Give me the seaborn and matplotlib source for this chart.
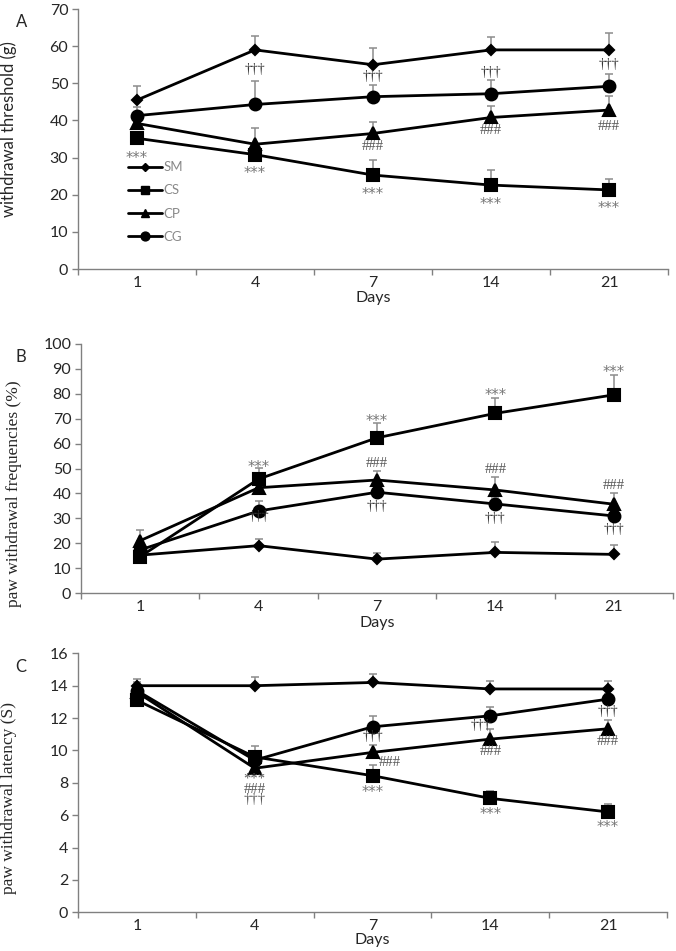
import numpy as np
import pandas as pd
import matplotlib
matplotlib.use("Agg")
import matplotlib.pyplot as plt
import seaborn as sns
from matplotlib.lines import Line2D

# ---------------- data ----------------
days = ["1", "4", "7", "14", "21"]
groups = ["SM", "CS", "CP", "CG"]

# Panel A: withdrawal threshold (g)
a_sm = [45.5, 59.0, 55.0, 59.0, 59.0]
a_cs = [35.2, 30.8, 25.3, 22.6, 21.3]
a_cp = [39.2, 33.6, 36.5, 40.8, 42.8]
a_cg = [41.3, 44.3, 46.4, 47.2, 49.2]
a_sm_err = [3.8, 3.8, 4.6, 3.6, 4.5]
a_cs_err = [0.0, 0.0, 4.0, 4.1, 2.9]
a_cp_err = [1.5, 4.4, 3.2, 3.1, 3.8]
a_cg_err = [2.3, 6.3, 3.2, 3.7, 3.4]

# Panel B: paw withdrawal frequencies (%)
b_sm = [15.3, 19.1, 13.7, 16.4, 15.6]
b_cs = [14.7, 45.8, 62.3, 72.1, 79.5]
b_cp = [21.1, 42.3, 45.4, 41.4, 35.7]
b_cg = [17.4, 33.0, 40.5, 35.8, 31.0]
b_sm_err = [1.5, 2.7, 2.6, 4.0, 3.8]
b_cs_err = [1.0, 4.3, 5.8, 6.3, 8.1]
b_cp_err = [4.3, 2.0, 3.7, 5.3, 4.4]
b_cg_err = [2.0, 4.0, 2.0, 2.5, 2.0]

# Panel C: paw withdrawal latency (S)
c_sm = [14.0, 14.0, 14.2, 13.8, 13.8]
c_cs = [13.1, 9.6, 8.44, 7.04, 6.2]
c_cp = [13.6, 8.9, 9.88, 10.7, 11.34]
c_cg = [13.7, 9.4, 11.46, 12.14, 13.17]
c_sm_err = [0.4, 0.55, 0.5, 0.5, 0.5]
c_cs_err = [0.2, 0.65, 0.64, 0.45, 0.47]
c_cp_err = [0.3, 0.3, 0.47, 0.6, 0.52]
c_cg_err = [0.5, 0.4, 0.68, 0.56, 0.3]

# significance marks: (category position, y value, text)
a_marks = [(0, 31.0, "***"), (1, 27.0, "***"), (2, 21.3, "***"), (3, 18.6, "***"), (4, 17.7, "***"),
           (1, 53.6, "†††"), (2, 51.8, "†††"), (3, 53.0, "†††"), (4, 55.2, "†††"),
           (2, 32.9, "###"), (3, 37.2, "###"), (4, 38.5, "###")]
b_marks = [(1, 52.5, "***"), (2, 70.8, "***"), (3, 81.2, "***"), (4, 90.5, "***"),
           (2, 52.1, "###"), (3, 49.7, "###"), (4, 43.3, "###"),
           (1, 30.7, "†††"), (2, 34.7, "†††"), (3, 29.8, "†††"), (4, 25.6, "†††")]
c_marks = [(1, 7.6, "***\n###\n†††"),
           (2, 10.85, "†††"), (2.15, 9.24, "###"), (2, 7.7, "***"),
           (2.92, 11.57, "†††"), (3, 9.96, "###"), (3, 6.36, "***"),
           (4, 12.43, "†††"), (4, 10.58, "###"), (4, 5.53, "***")]

# ---------------- style ----------------
sns.set_theme(style="ticks")
plt.rcParams['font.family'] = ['Lato', 'DejaVu Sans']

markers = {"SM": "D", "CS": "s", "CP": "^", "CG": "o"}
msize = {"SM": 5.5, "CS": 8.5, "CP": 8.5, "CG": 8.5}
mark_style = {"***": dict(color="#777777", family=["DejaVu Sans"], fontsize=10.5),
              "###": dict(color="#555555", family=["Liberation Serif"], fontsize=10.5),
              "†††": dict(color="#333333", family=["Liberation Serif"], fontsize=10),
              "***\n###\n†††": dict(color="#555555", family=["Liberation Serif"], fontsize=10.5,
                                    linespacing=0.75)}
mark_shift = {"***": -3.5, "###": 0, "†††": 0, "***\n###\n†††": 0}
spine_col = "#808080"

fig = plt.figure(figsize=(6.76, 9.51), dpi=100)


def panel(rect, vals, errs, ymax, ystep, ylabel, ylab_kw, label_xy, marks, xlabelpad):
    ax = fig.add_axes(rect)
    rows = []
    for g in groups:
        for d, v in zip(days, vals[g]):
            rows.append({"day": d, "group": g, "value": v})
    df = pd.DataFrame(rows)
    for g in groups:
        sub = df[df["group"] == g]
        sns.pointplot(data=sub, x="day", y="value", order=days, color="black",
                      markers=markers[g], markersize=msize[g], linewidth=2.0,
                      errorbar=None, ax=ax, legend=False)
        ax.errorbar(np.arange(len(days)), vals[g],
                    yerr=[np.zeros(len(days)), errs[g]], fmt="none",
                    ecolor="#8c8c8c", elinewidth=1.1, capsize=3, capthick=1.1, zorder=1)
    for x, y, t in marks:
        ax.annotate(t, (x, y), xytext=(0, mark_shift[t]), textcoords="offset points",
                    ha="center", va="center", multialignment="center", **mark_style[t])
    ax.set_xlim(-0.5, len(days) - 0.5)
    ax.set_ylim(0, ymax)
    ax.set_yticks(np.arange(0, ymax + 0.1, ystep))
    ax.set_xticks(np.arange(len(days)))
    ax.set_xticklabels(days)
    ax.set_xticks(np.arange(-0.5, len(days), 1), minor=True)
    ax.tick_params(axis="x", which="major", length=0, labelsize=11.5, pad=5)
    ax.tick_params(axis="x", which="minor", length=4, width=1, color=spine_col, direction="out")
    ax.tick_params(axis="y", which="major", length=4, width=1, color=spine_col, labelsize=11.5, pad=3)
    sns.despine(ax=ax)
    for s in ["left", "bottom"]:
        ax.spines[s].set_color(spine_col)
        ax.spines[s].set_linewidth(1.0)
    ax.set_xlabel("Days", fontsize=11.5, labelpad=xlabelpad)
    ax.set_ylabel(ylabel, **ylab_kw)
    ax.yaxis.set_label_coords(*label_xy)
    return ax


axA = panel([0.1154, 0.7171, 0.8728, 0.2734],
            {"SM": a_sm, "CS": a_cs, "CP": a_cp, "CG": a_cg},
            {"SM": a_sm_err, "CS": a_cs_err, "CP": a_cp_err, "CG": a_cg_err},
            70, 10, "withdrawal threshold (g)", dict(fontsize=12, family=["Lato"]),
            (-0.103, 0.538), a_marks, 1)
axB = panel([0.1198, 0.3761, 0.8757, 0.2625],
            {"SM": b_sm, "CS": b_cs, "CP": b_cp, "CG": b_cg},
            {"SM": b_sm_err, "CS": b_cs_err, "CP": b_cp_err, "CG": b_cg_err},
            100, 10, "paw withdrawal frequencies (%)",
            dict(fontsize=12.5, family=["Liberation Serif"]),
            (-0.0997, 0.40), b_marks, 1)
axC = panel([0.1154, 0.0407, 0.8713, 0.2723],
            {"SM": c_sm, "CS": c_cs, "CP": c_cp, "CG": c_cg},
            {"SM": c_sm_err, "CS": c_cs_err, "CP": c_cp_err, "CG": c_cg_err},
            16, 2, "paw withdrawal latency (S)",
            dict(fontsize=12.5, family=["Liberation Serif"]),
            (-0.1036, 0.441), c_marks, 0)

handles = [Line2D([0], [0], color="black", marker=markers[g], markersize=msize[g] * 0.75, lw=2)
           for g in groups]
axA.legend(handles, groups, loc="upper left", bbox_to_anchor=(0.085, 0.415), frameon=False,
           fontsize=9.5, labelcolor="#888888", handlelength=2.6, labelspacing=0.85,
           handletextpad=0.1, borderpad=0, borderaxespad=0)

fig.text(22 / 676, 1 - 22 / 951, "A", fontsize=12, ha="center", va="center")
fig.text(21 / 676, 1 - 357 / 951, "B", fontsize=12, ha="center", va="center")
fig.text(21 / 676, 1 - 667 / 951, "C", fontsize=12, ha="center", va="center")

fig.savefig("out.png", dpi=100)
